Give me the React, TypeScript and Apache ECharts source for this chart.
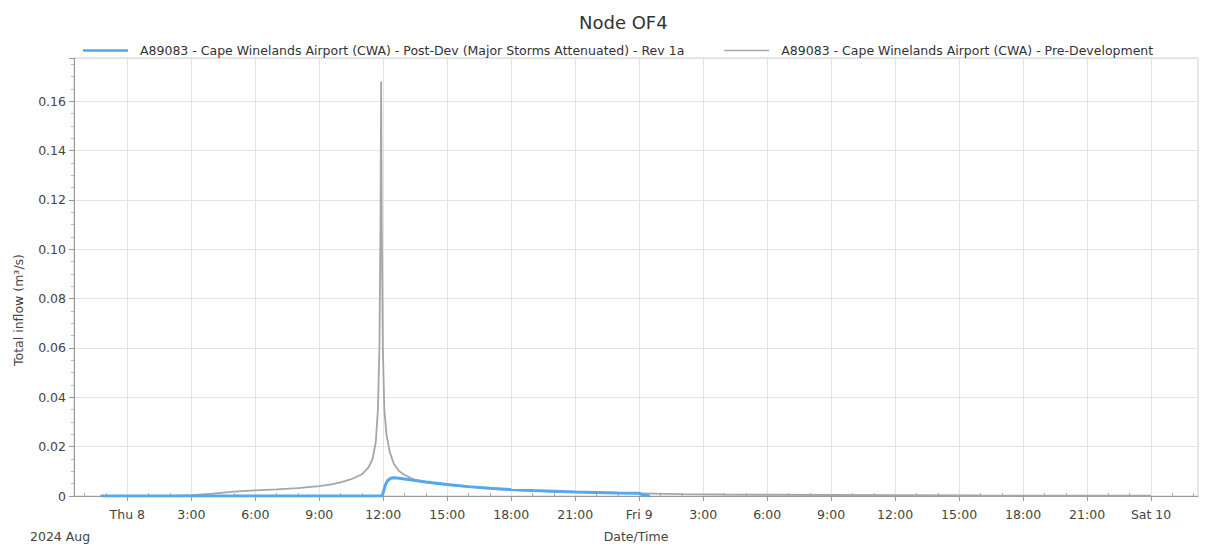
import React, { useEffect, useRef } from "react";
import * as echarts from "echarts";

// Hours measured from Thu 8 Aug 2024 00:00
const preHours = [-1.25, 2.0, 3.0, 4.0, 5.0, 6.0, 7.0, 8.0, 9.0, 9.5, 10.0, 10.5, 11.0, 11.3, 11.5, 11.65, 11.75, 11.82, 11.87, 11.9, 11.93, 11.98, 12.05, 12.15, 12.3, 12.5, 12.75, 13.0, 13.5, 14.0, 15.0, 16.0, 17.0, 18.0, 19.0, 20.0, 21.0, 22.0, 23.0, 24.0, 26.0, 28.0, 30.0, 33.0, 36.0, 40.0, 44.0, 48.0];
const preValues = [0, 0, 0.0003, 0.001, 0.0018, 0.0023, 0.0027, 0.0032, 0.004, 0.0046, 0.0055, 0.0068, 0.0088, 0.0115, 0.015, 0.022, 0.035, 0.06, 0.11, 0.168, 0.11, 0.06, 0.035, 0.025, 0.018, 0.013, 0.01, 0.0085, 0.0065, 0.0055, 0.0045, 0.0037, 0.003, 0.0025, 0.0021, 0.0018, 0.0016, 0.0014, 0.0012, 0.0011, 0.0008, 0.0006, 0.0005, 0.0004, 0.0003, 0.0002, 0.00015, 0.0001];

const postHours = [-1.25, 11.95, 12.0, 12.1, 12.2, 12.35, 12.5, 12.75, 13.0, 13.5, 14.0, 15.0, 16.0, 17.0, 18.0, 19.0, 20.0, 21.0, 22.0, 23.0, 24.0, 24.2, 24.5];
const postValues = [0, 0, 0.0015, 0.0045, 0.0062, 0.0072, 0.0074, 0.0072, 0.0069, 0.0063, 0.0057, 0.0047, 0.0038, 0.0031, 0.0026, 0.0022, 0.0019, 0.0016, 0.0014, 0.0012, 0.0011, 0.0003, 0];

const xTickHours = [0, 3, 6, 9, 12, 15, 18, 21, 24, 27, 30, 33, 36, 39, 42, 45, 48];
const xTickLabels = ["Thu 8", "3:00", "6:00", "9:00", "12:00", "15:00", "18:00", "21:00", "Fri 9", "3:00", "6:00", "9:00", "12:00", "15:00", "18:00", "21:00", "Sat 10"];
const xMinorHours = [-2, -1, 1, 2, 4, 5, 7, 8, 10, 11, 13, 14, 16, 17, 19, 20, 22, 23, 25, 26, 28, 29, 31, 32, 34, 35, 37, 38, 40, 41, 43, 44, 46, 47, 49, 50];

const seriesNames = [
  "A89083 - Cape Winelands Airport (CWA) - Post-Dev (Major Storms Attenuated) - Rev 1a",
  "A89083 - Cape Winelands Airport (CWA) - Pre-Development",
];

const FONT = "'DejaVu Sans', sans-serif";
const BLUE = "#55a7ee";
const GREY = "#a6a6a6";

export default function App() {
  const ref = useRef<HTMLDivElement>(null);
  useEffect(() => {
    document.body.style.margin = "0";
    const chart = echarts.init(ref.current!, null, { renderer: "svg" });
    const labelMap: Record<string, string> = {};
    xTickHours.forEach((h, i) => (labelMap[String(h)] = xTickLabels[i]));
    chart.setOption({
      animation: false,
      backgroundColor: "#ffffff",
      textStyle: { fontFamily: FONT },
      title: {
        text: "Node OF4",
        left: 574,
        top: 8,
        textStyle: { fontSize: 18, fontWeight: "normal", color: "#333", fontFamily: FONT },
      },
      legend: {
        data: [
          { name: seriesNames[0], icon: "path://M0,0H45V0.01H0Z M0,0.3H45V2.7H0Z M0,2.99H45V3H0Z", itemStyle: { color: BLUE } },
          { name: seriesNames[1], icon: "path://M0,0H45V0.01H0Z M0,0.8H45V2.2H0Z M0,2.99H45V3H0Z", itemStyle: { color: GREY } },
        ],
        left: 78,
        top: 39,
        itemWidth: 45,
        itemHeight: 3,
        itemGap: 40,
        textStyle: { fontSize: 12.5, color: "#333", fontFamily: FONT, padding: [0, 0, 0, 7] },
      },
      graphic: [
        {
          type: "text",
          left: 30,
          top: 530,
          style: { text: "2024 Aug", fontSize: 12.5, fill: "#444", fontFamily: FONT },
        },
        {
          type: "text",
          x: 18,
          y: 310,
          rotation: Math.PI / 2,
          style: {
            text: "Total inflow (m³/s)",
            fontSize: 12.5,
            fill: "#444",
            fontFamily: FONT,
            align: "center",
            verticalAlign: "middle",
          },
        },
      ],
      grid: {
        left: 74,
        right: 10,
        top: 58,
        bottom: 50,
        show: true,
        borderColor: "#cfcfcf",
        borderWidth: 1,
        outerBoundsMode: "none",
      },
      xAxis: [
        {
          type: "value",
          min: -2.5,
          max: 50.2,
          name: "Date/Time",
          nameLocation: "middle",
          nameGap: 34,
          nameTextStyle: { fontSize: 12.5, color: "#444", fontFamily: FONT },
          axisLine: { show: true, onZero: false, lineStyle: { color: "#999" } },
          axisTick: { show: true, length: 5, customValues: xTickHours, lineStyle: { color: "#999" } },
          axisLabel: {
            customValues: xTickHours,
            fontSize: 12.5,
            color: "#444",
            margin: 12,
            formatter: (v: number) => labelMap[String(v)] ?? "",
          },
          splitLine: { show: true, lineStyle: { color: "#e3e3e3", width: 1 } },
        },
        {
          type: "value",
          min: -2.5,
          max: 50.2,
          position: "bottom",
          axisLine: { show: false },
          axisTick: { show: true, inside: true, length: 3, customValues: xMinorHours, lineStyle: { color: "#aaa" } },
          axisLabel: { show: false },
          splitLine: { show: false },
        },
      ],
      yAxis: {
        type: "value",
        min: 0,
        max: 0.1775,
        interval: 0.02,
        axisLine: { show: true, onZero: false, lineStyle: { color: "#999" } },
        axisTick: { show: true, length: 5, lineStyle: { color: "#999" } },
        minorTick: { show: true, splitNumber: 4, length: 3, lineStyle: { color: "#bbb" } },
        axisLabel: {
          fontSize: 12.5,
          color: "#444",
          margin: 8,
          showMaxLabel: false,
          formatter: (v: number) => (v === 0 ? "0" : v.toFixed(2)),
        },
        splitLine: { show: true, lineStyle: { color: "#e3e3e3", width: 1 } },
      },
      series: [
        {
          name: seriesNames[1],
          type: "line",
          symbol: "none",
          showSymbol: false,
          data: preHours.map((h, i) => [h, preValues[i]]),
          lineStyle: { color: GREY, width: 1.8 },
          itemStyle: { color: GREY },
          z: 2,
        },
        {
          name: seriesNames[0],
          type: "line",
          symbol: "none",
          showSymbol: false,
          data: postHours.map((h, i) => [h, postValues[i]]),
          lineStyle: { color: BLUE, width: 3 },
          itemStyle: { color: BLUE },
          z: 3,
        },
      ],
    });
    return () => chart.dispose();
  }, []);
  return <div ref={ref} style={{ width: 1208, height: 546 }} />;
}
